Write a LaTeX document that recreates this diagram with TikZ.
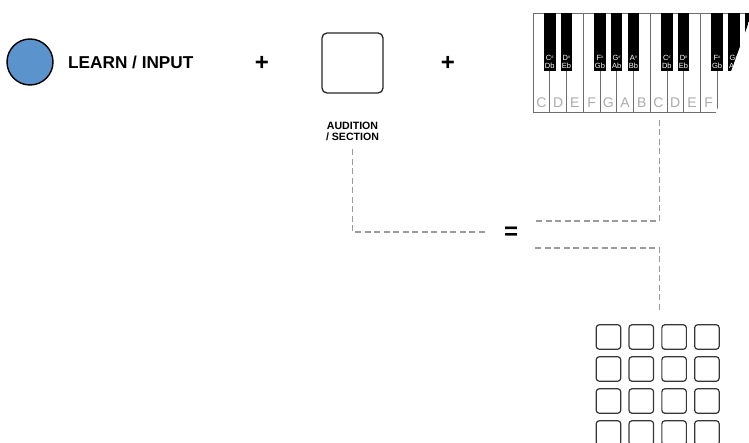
\documentclass[tikz,border=0pt]{standalone}
\usepackage{fontspec}
\setmainfont{Liberation Sans}
\definecolor{blueC}{RGB}{91,147,204}
\definecolor{dashC}{RGB}{155,155,155}
\definecolor{keyline}{RGB}{110,110,110}
\definecolor{letterC}{RGB}{172,172,172}
\definecolor{padC}{RGB}{55,55,55}
\newcommand{\shp}{\raisebox{2.2pt}{\fontsize{4}{4}\selectfont\#}}
\begin{document}
\begin{tikzpicture}[x=1pt,y=-1pt,
  dashconn/.style={draw=dashC, line width=1.1pt, dash pattern=on 6pt off 3.5pt},
  padbox/.style={draw=padC, line width=1.2pt, rounded corners=3pt, minimum size=24.5pt, inner sep=0pt},
  wkey/.style={text=letterC, font=\fontsize{14}{14}\selectfont, anchor=base, inner sep=0pt},
  bklab/.style={text=white, font=\fontsize{7.5}{7.5}\selectfont, anchor=base, inner sep=0pt},
  bigsign/.style={font=\bfseries\fontsize{24}{24}\selectfont, inner sep=0pt},
  smalllab/.style={font=\bfseries\fontsize{10.6}{11}\selectfont, anchor=base, inner sep=0pt}]
\useasboundingbox (0,0) rectangle (749,443);
\clip (0,0) rectangle (749,443);

% top row
\node[circle, draw=black, line width=1.4pt, fill=blueC, minimum size=46pt, inner sep=0pt] (learn) at (30,62) {};
\node[font=\bfseries\fontsize{17.2}{17.2}\selectfont, anchor=base west, inner sep=0pt] (learntxt) at (68,69) {LEARN / INPUT};
\node[bigsign] (plusA) at (262,63) {+};
\node[draw=black!85, line width=1.3pt, rounded corners=5pt, minimum width=61pt, minimum height=60pt, inner sep=0pt] (aud) at (352.5,63) {};
\node[bigsign] (plusB) at (448,63) {+};
\node[smalllab] (audA) at (352.5,130) {AUDITION};
\node[smalllab] (audB) at (352.5,141) {/ SECTION};

% keyboard
\begin{scope}
\clip (520,0) -- (756.8,0) -- (711.5,125) -- (520,125) -- cycle;
\fill[white] (533,13) rectangle (770,112);
\foreach \k in {1,...,14} {
  \draw[keyline, line width=0.7pt] ({533+16.73*\k},13) -- ({533+16.73*\k},112);
}
\draw[keyline, line width=0.9pt] (533,112) -- (533,13) -- (770,13);
\draw[keyline, line width=0.9pt] (533,112) -- (770,112);
\foreach \k/\up/\dn in {1/C/Db,2/D/Eb,4/F/Gb,5/G/Ab,6/A/Bb,8/C/Db,9/D/Eb,11/F/Gb,12/G/Ab,13/A/Bb} {
  \fill[black] ({533+16.73*\k-5.8},13) rectangle ({533+16.73*\k+5.8},71);
  \node[bklab] (bku\k) at ({533+16.73*\k},60.5) {\up\shp};
  \node[bklab] (bkd\k) at ({533+16.73*\k},68.5) {\dn};
}
\foreach \i/\l in {0/C,1/D,2/E,3/F,4/G,5/A,6/B,7/C,8/D,9/E,10/F} {
  \node[wkey] (wk\i) at ({533+16.73*(\i+0.5)},108) {\l};
}
\end{scope}

% equals and connectors
\node[bigsign] (eq) at (511,233) {=};
\coordinate (eqL) at (487,232);
\coordinate (kbout) at (659.5,120);
\coordinate (eqUR) at (535,221);
\coordinate (eqLR) at (535,248);
\coordinate (padin) at (659.5,312);
\draw[dashconn] (audB.south) ++(0,8) |- (eqL);
\draw[dashconn] (kbout) |- (eqUR);
\draw[dashconn] (eqLR) -| (padin);

% pads
\foreach \r in {0,1,2,3} {
  \foreach \c in {0,1,2,3} {
    \node[padbox] (pad\r\c) at ({608.5+32.8*\c},{337+32*\r}) {};
  }
}
\end{tikzpicture}
\end{document}
